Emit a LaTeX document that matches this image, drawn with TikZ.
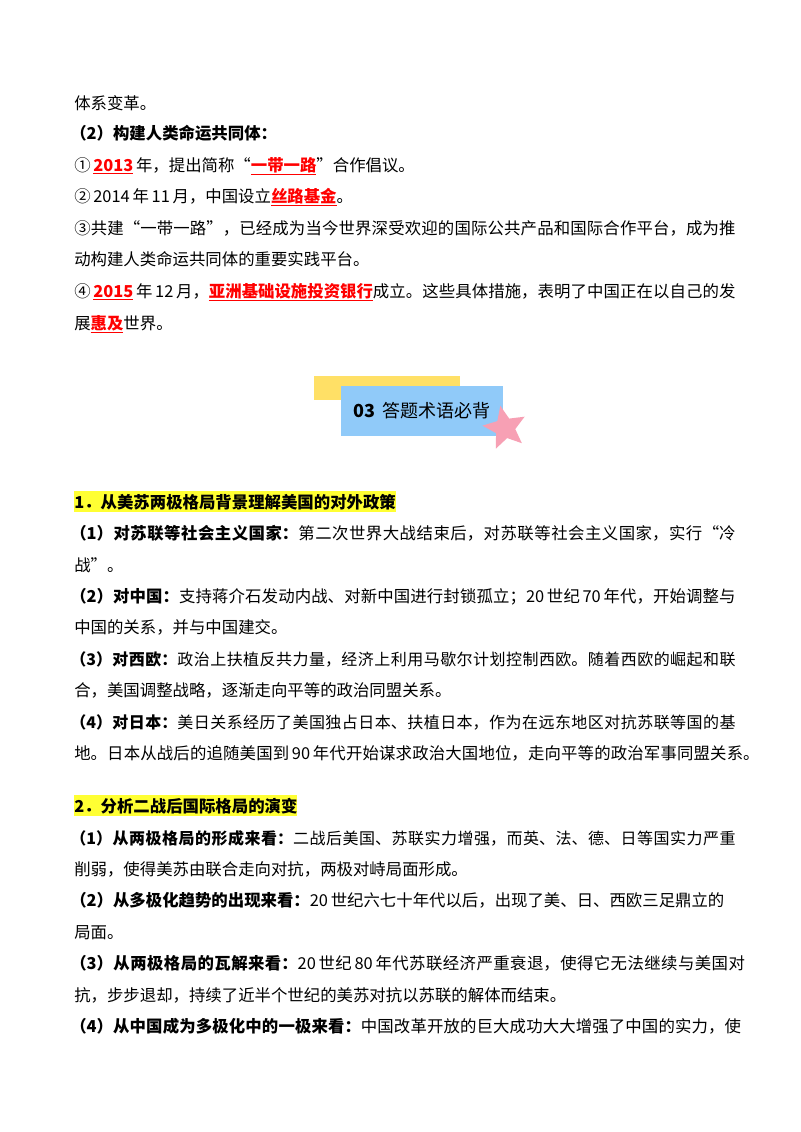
\documentclass[tikz,border=0pt]{standalone}
\usepackage{fontspec}
\setmainfont{Noto Sans CJK SC}
\usetikzlibrary{shapes.geometric}
\XeTeXlinebreaklocale "zh"
\XeTeXlinebreakskip=0pt plus 1pt minus 0.3pt
\newcommand{\Rd}[1]{\textcolor{red}{\underline{\textbf{#1}}}}
\newcommand{\Jl}[2][496pt]{\parbox[t]{#1}{\noindent\parfillskip=0pt\relax #2}}
\definecolor{hl}{HTML}{FFFF33}
\begin{document}
\begin{tikzpicture}[x=0.75pt,y=-0.75pt,
  ln/.style={anchor=base west,inner sep=0pt,font=\fontsize{12.3pt}{15pt}\selectfont},
  sm/.style={ln,font=\fontsize{12pt}{15pt}\selectfont},
  hd/.style={ln,fill=hl,inner ysep=2pt}]
\useasboundingbox (0,0) rectangle (800,1132);
\fill[white] (0,0) rectangle (800,1132);
\node[ln] (a1) at (74,109) {体系变革。};
\node[ln] (a2) at (70,139) {\textbf{（2）构建人类命运共同体：}};
\node[ln] (a3) at (74,171) {①\,\Rd{2013}\,年，提出简称“\Rd{一带一路}”合作倡议。};
\node[ln] (a4) at (74,202) {②\,2014\,年\,11\,月，中国设立\Rd{丝路基金}。};
\node[ln] (a5) at (74,234) {\Jl{③共建“一带一路”，已经成为当今世界深受欢迎的国际公共产品和国际合作平台，成为推}};
\node[ln] (a6) at (74,265) {动构建人类命运共同体的重要实践平台。};
\node[ln] (a7) at (74,297) {\Jl{④\,\Rd{2015}\,年\,12\,月，\Rd{亚洲基础设施投资银行}成立。这些具体措施，表明了中国正在以自己的发}};
\node[ln] (a8) at (74,329) {展\Rd{惠及}世界。};
% badge
\fill[fill={rgb,255:red,255;green,224;blue,102}] (314,376) rectangle (460,400);
\fill[fill={rgb,255:red,144;green,202;blue,249}] (341,386) rectangle (503,436);
\node[font=\fontsize{13.5pt}{16pt}\selectfont] (bt) at (422,411) {\textbf{03}\, 答题术语必背};
\node[star,star points=5,star point ratio=2.2,minimum size=34pt,inner sep=0pt,fill={rgb,255:red,247;green,160;blue,180},rotate=12] (st) at (505,428) {};
% section 1
\node[hd] (b0) at (74,508) {\textbf{1．从美苏两极格局背景理解美国的对外政策}};
\node[ln] (b1) at (70,539) {\Jl[499pt]{\textbf{（1）对苏联等社会主义国家：}第二次世界大战结束后，对苏联等社会主义国家，实行“冷}};
\node[ln] (b2) at (74,571) {战”。};
\node[ln] (b3) at (70,602) {\Jl[499pt]{\textbf{（2）对中国：}支持蒋介石发动内战、对新中国进行封锁孤立；20\,世纪\,70\,年代，开始调整与}};
\node[ln] (b4) at (74,633) {中国的关系，并与中国建交。};
\node[sm] (b5) at (70,665) {\Jl[499pt]{\textbf{（3）对西欧：}政治上扶植反共力量，经济上利用马歇尔计划控制西欧。随着西欧的崛起和联}};
\node[ln] (b6) at (74,696) {合，美国调整战略，逐渐走向平等的政治同盟关系。};
\node[sm] (b7) at (70,728) {\Jl[499pt]{\textbf{（4）对日本：}美日关系经历了美国独占日本、扶植日本，作为在远东地区对抗苏联等国的基}};
\node[ln] (b8) at (74,759) {\Jl[514pt]{地。日本从战后的追随美国到\,90\,年代开始谋求政治大国地位，走向平等的政治军事同盟关系。}};
% section 2
\node[hd] (c0) at (74,812) {\textbf{2．分析二战后国际格局的演变}};
\node[sm] (c1) at (70,844) {\Jl[499pt]{\textbf{（1）从两极格局的形成来看：}二战后美国、苏联实力增强，而英、法、德、日等国实力严重}};
\node[ln] (c2) at (74,875) {削弱，使得美苏由联合走向对抗，两极对峙局面形成。};
\node[ln] (c3) at (70,906) {\textbf{（2）从多极化趋势的出现来看：}20\,世纪六七十年代以后，出现了美、日、西欧三足鼎立的};
\node[ln] (c4) at (74,938) {局面。};
\node[ln] (c5) at (70,969) {\Jl[506pt]{\textbf{（3）从两极格局的瓦解来看：}20\,世纪\,80\,年代苏联经济严重衰退，使得它无法继续与美国对}};
\node[ln] (c6) at (74,1001) {抗，步步退却，持续了近半个世纪的美苏对抗以苏联的解体而结束。};
\node[ln] (c7) at (70,1032) {\Jl[503pt]{\textbf{（4）从中国成为多极化中的一极来看：}中国改革开放的巨大成功大大增强了中国的实力，使}};
\end{tikzpicture}
\end{document}
